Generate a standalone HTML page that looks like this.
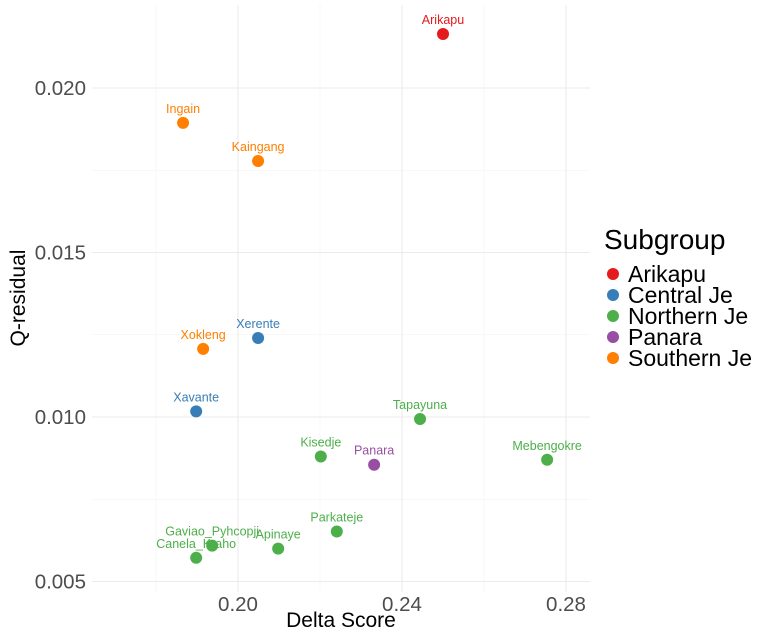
<!DOCTYPE html>
<html><head><meta charset="utf-8">
<style>
body{margin:0;background:#fff;font-family:"Liberation Sans",sans-serif;}
svg text{font-family:"Liberation Sans",sans-serif;}
</style></head>
<body>
<svg id="chart" width="760" height="635">
<g id="grid"></g>
<g id="axes"></g>
<g id="points"></g>
<text x="341" y="627" text-anchor="middle" font-size="21" fill="#000">Delta Score</text>
<text transform="translate(25,298) rotate(-90)" text-anchor="middle" font-size="21" fill="#000">Q-residual</text>
<g id="legend">
<text x="604" y="249" font-size="28" fill="#000">Subgroup</text>
</g>
</svg>
<script>
const names = ["Arikapu","Ingain","Kaingang","Xerente","Xokleng","Xavante","Tapayuna","Kisedje","Panara","Mebengokre","Parkateje","Apinaye","Gaviao_Pyhcopji","Canela_Kraho"];
const groups = ["Arikapu","Southern Je","Southern Je","Central Je","Southern Je","Central Je","Northern Je","Northern Je","Panara","Northern Je","Northern Je","Northern Je","Northern Je","Northern Je"];
const deltaScores = [0.2500,0.1866,0.2049,0.2049,0.1915,0.1898,0.2444,0.2202,0.2332,0.2754,0.2241,0.2098,0.1937,0.1898];
const qResiduals = [0.02164,0.01894,0.01778,0.01240,0.01207,0.01017,0.00994,0.00880,0.00855,0.00870,0.00652,0.00600,0.00609,0.00572];
const legendGroups = ["Arikapu","Central Je","Northern Je","Panara","Southern Je"];
const legendColors = ["#E41A1C","#377EB8","#4DAF4A","#984EA3","#FF7F00"];
const xTicks = [0.20,0.24,0.28];
const xTickLabels = ["0.20","0.24","0.28"];
const xMinor = [0.18,0.22,0.26];
const yTicks = [0.005,0.010,0.015,0.020];
const yTickLabels = ["0.005","0.010","0.015","0.020"];
const yMinor = [0.0075,0.0125,0.0175];

const NS="http://www.w3.org/2000/svg";
const L=92,R=590,T=5,B=592;
function sx(v){return 238+(v-0.20)*4100;}
function sy(v){return 88-(v-0.020)*32900;}
function mk(tag,attrs,parent){const e=document.createElementNS(NS,tag);for(const k in attrs)e.setAttribute(k,attrs[k]);parent.appendChild(e);return e;}
const grid=document.getElementById('grid'),axes=document.getElementById('axes'),pts=document.getElementById('points'),leg=document.getElementById('legend');
xMinor.forEach(v=>{const l=mk('line',{x1:sx(v),x2:sx(v),y1:T,y2:B,stroke:'#f2f2f2','stroke-width':0.6},grid);

});
yMinor.forEach(v=>{const l=mk('line',{x1:L,x2:R,y1:sy(v),y2:sy(v),stroke:'#f2f2f2','stroke-width':0.6},grid);

});
xTicks.forEach((v,i)=>{const l=mk('line',{x1:sx(v),x2:sx(v),y1:T,y2:B,stroke:'#ebebeb','stroke-width':1.1},grid);


const t=mk('text',{x:sx(v),y:611,'text-anchor':'middle','font-size':20.5,fill:'#4d4d4d'},axes);t.textContent=xTickLabels[i];

});
yTicks.forEach((v,i)=>{const l=mk('line',{x1:L,x2:R,y1:sy(v),y2:sy(v),stroke:'#ebebeb','stroke-width':1.1},grid);


const t=mk('text',{x:86,y:sy(v)+7,'text-anchor':'end','font-size':20.5,fill:'#4d4d4d'},axes);t.textContent=yTickLabels[i];

});
names.forEach((n,i)=>{const col=legendColors[legendGroups.indexOf(groups[i])];
const x=sx(deltaScores[i]),y=sy(qResiduals[i]);
const c=mk('circle',{cx:x,cy:y,r:6,fill:col},pts);


const t=mk('text',{x:x,y:y-10,'text-anchor':'middle','font-size':12.5,fill:col},pts);t.textContent=n;

});
legendGroups.forEach((g,i)=>{const y=274+i*21;
const c=mk('circle',{cx:613,cy:y,r:6,fill:legendColors[i]},leg);


const t=mk('text',{x:628,y:y+8,'font-size':23,fill:'#000'},leg);t.textContent=g;

});
</script>
</body></html>
